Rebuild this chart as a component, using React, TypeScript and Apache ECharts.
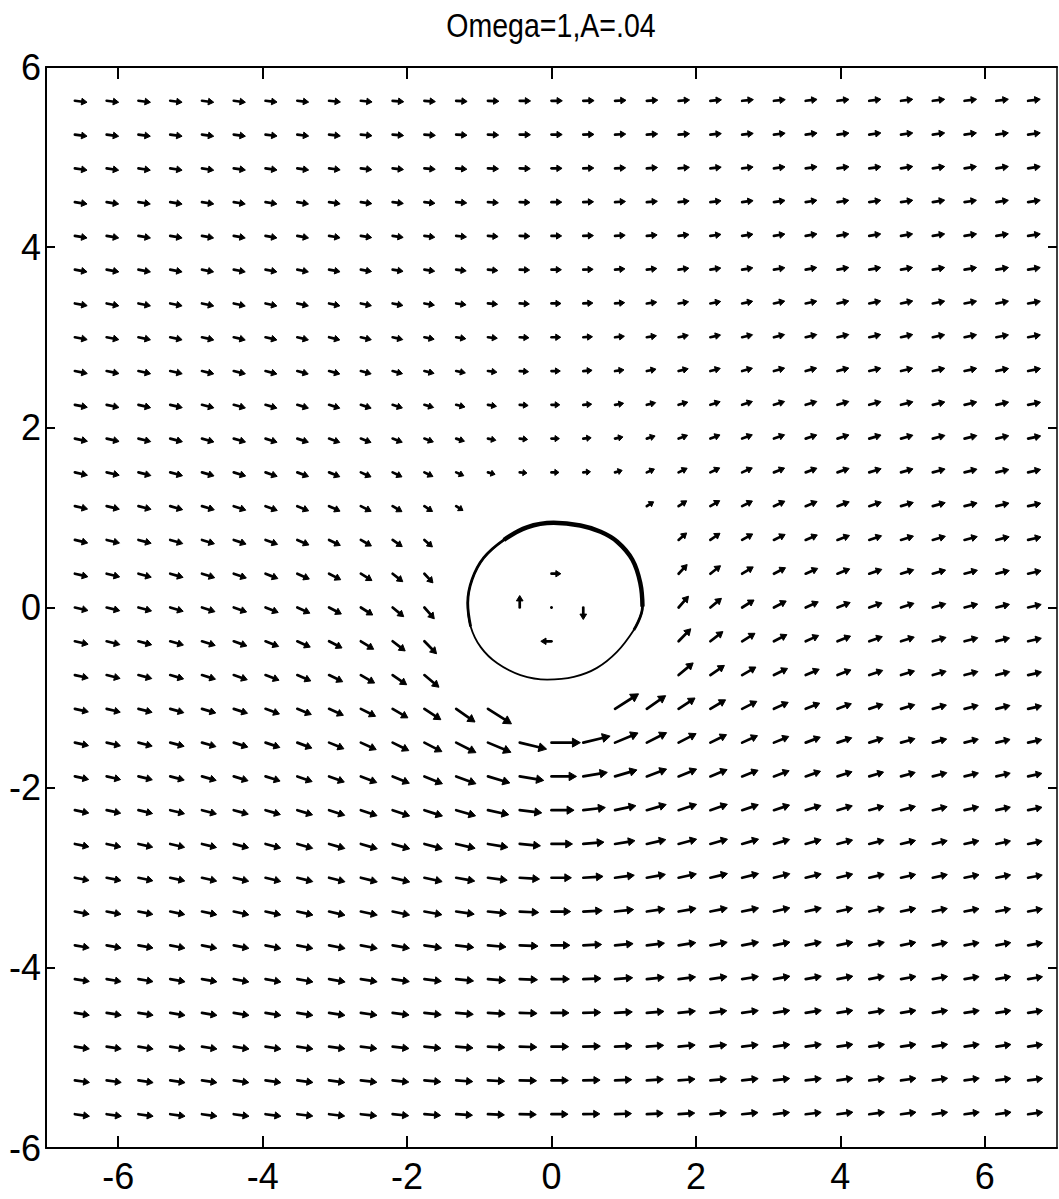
import React, { useEffect, useRef } from "react";
import * as echarts from "echarts";

// Title and axis tick values
const TITLE = "Omega=1,A=.04";
const X_TICKS = [-6, -4, -2, 0, 2, 4, 6];

// Quiver grid (tail positions of the arrows)
const X_GRID = [-6.6, -6.16, -5.72, -5.28, -4.84, -4.4, -3.96, -3.52, -3.08, -2.64, -2.2, -1.76, -1.32, -0.88, -0.44, 0, 0.44, 0.88, 1.32, 1.76, 2.2, 2.64, 3.08, 3.52, 3.96, 4.4, 4.84, 5.28, 5.72, 6.16, 6.6];
const Y_GRID = [-5.625, -5.25, -4.875, -4.5, -4.125, -3.75, -3.375, -3, -2.625, -2.25, -1.875, -1.5, -1.125, -0.75, -0.375, 0, 0.375, 0.75, 1.125, 1.5, 1.875, 2.25, 2.625, 3, 3.375, 3.75, 4.125, 4.5, 4.875, 5.25, 5.625];

// Horizontal velocity component, one row per Y_GRID value (bottom to top); null = no arrow
const U_ROWS = [
  [1.09,1.10,1.10,1.11,1.12,1.14,1.15,1.16,1.17,1.19,1.20,1.21,1.22,1.23,1.24,1.24,1.24,1.23,1.22,1.21,1.20,1.19,1.17,1.16,1.15,1.14,1.12,1.11,1.10,1.10,1.09],
  [1.09,1.09,1.10,1.11,1.12,1.13,1.15,1.17,1.18,1.20,1.21,1.23,1.24,1.25,1.26,1.26,1.26,1.25,1.24,1.23,1.21,1.20,1.18,1.17,1.15,1.13,1.12,1.11,1.10,1.09,1.09],
  [1.08,1.09,1.10,1.11,1.12,1.14,1.15,1.17,1.19,1.20,1.22,1.24,1.26,1.27,1.28,1.28,1.28,1.27,1.26,1.24,1.22,1.20,1.19,1.17,1.15,1.14,1.12,1.11,1.10,1.09,1.08],
  [1.08,1.09,1.10,1.11,1.12,1.14,1.15,1.17,1.19,1.21,1.23,1.26,1.28,1.29,1.30,1.31,1.30,1.29,1.28,1.26,1.23,1.21,1.19,1.17,1.15,1.14,1.12,1.11,1.10,1.09,1.08],
  [1.08,1.08,1.09,1.11,1.12,1.13,1.15,1.17,1.20,1.22,1.25,1.27,1.30,1.32,1.33,1.34,1.33,1.32,1.30,1.27,1.25,1.22,1.20,1.17,1.15,1.13,1.12,1.11,1.09,1.08,1.08],
  [1.07,1.08,1.09,1.10,1.11,1.13,1.15,1.17,1.20,1.23,1.26,1.29,1.32,1.35,1.37,1.38,1.37,1.35,1.32,1.29,1.26,1.23,1.20,1.17,1.15,1.13,1.11,1.10,1.09,1.08,1.07],
  [1.07,1.07,1.08,1.09,1.11,1.13,1.14,1.17,1.19,1.23,1.27,1.31,1.35,1.39,1.42,1.43,1.42,1.39,1.35,1.31,1.27,1.23,1.19,1.17,1.14,1.13,1.11,1.09,1.08,1.07,1.07],
  [1.06,1.07,1.08,1.09,1.10,1.12,1.14,1.16,1.19,1.23,1.28,1.33,1.39,1.44,1.48,1.49,1.48,1.44,1.39,1.33,1.28,1.23,1.19,1.16,1.14,1.12,1.10,1.09,1.08,1.07,1.06],
  [1.05,1.06,1.07,1.08,1.09,1.11,1.13,1.15,1.18,1.23,1.28,1.35,1.42,1.49,1.55,1.57,1.55,1.49,1.42,1.35,1.28,1.23,1.18,1.15,1.13,1.11,1.09,1.08,1.07,1.06,1.05],
  [1.04,1.05,1.06,1.07,1.08,1.09,1.11,1.14,1.17,1.21,1.27,1.35,1.45,1.56,1.65,1.69,1.65,1.56,1.45,1.35,1.27,1.21,1.17,1.14,1.11,1.09,1.08,1.07,1.06,1.05,1.04],
  [1.03,1.04,1.04,1.05,1.06,1.07,1.09,1.11,1.14,1.19,1.25,1.35,1.48,1.64,1.80,1.87,1.80,1.64,1.48,1.35,1.25,1.19,1.14,1.11,1.09,1.07,1.06,1.05,1.04,1.04,1.03],
  [1.02,1.03,1.03,1.04,1.04,1.05,1.07,1.09,1.11,1.15,1.21,1.31,1.48,1.72,2.01,2.16,2.01,1.72,1.48,1.31,1.21,1.15,1.11,1.09,1.07,1.05,1.04,1.04,1.03,1.03,1.02],
  [1.01,1.02,1.02,1.02,1.03,1.03,1.04,1.05,1.07,1.10,1.14,1.23,1.41,1.76,null,null,null,1.76,1.41,1.23,1.14,1.10,1.07,1.05,1.04,1.03,1.03,1.02,1.02,1.02,1.01],
  [1.00,1.00,1.00,1.00,1.01,1.01,1.01,1.01,1.02,1.03,1.05,1.09,null,null,null,null,null,null,null,1.09,1.05,1.03,1.02,1.01,1.01,1.01,1.01,1.00,1.00,1.00,1.00],
  [0.99,0.99,0.99,0.99,0.99,0.98,0.98,0.97,0.97,0.96,0.94,0.91,null,null,null,-0.8,null,null,null,0.91,0.94,0.96,0.97,0.97,0.98,0.98,0.99,0.99,0.99,0.99,0.99],
  [0.98,0.98,0.98,0.97,0.97,0.96,0.95,0.94,0.92,0.89,0.83,0.74,null,null,0,0,0,null,null,0.74,0.83,0.89,0.92,0.94,0.95,0.96,0.97,0.97,0.98,0.98,0.98],
  [0.97,0.97,0.96,0.96,0.95,0.94,0.92,0.90,0.87,0.83,0.76,0.64,null,null,null,0.7,null,null,null,0.64,0.76,0.83,0.87,0.90,0.92,0.94,0.95,0.96,0.96,0.97,0.97],
  [0.96,0.96,0.95,0.94,0.93,0.92,0.90,0.87,0.84,0.79,0.72,0.60,null,null,null,null,null,null,null,0.60,0.72,0.79,0.84,0.87,0.90,0.92,0.93,0.94,0.95,0.96,0.96],
  [0.95,0.95,0.94,0.93,0.92,0.90,0.88,0.85,0.82,0.77,0.70,0.61,0.51,null,null,null,null,null,0.51,0.61,0.70,0.77,0.82,0.85,0.88,0.90,0.92,0.93,0.94,0.95,0.95],
  [0.94,0.94,0.93,0.92,0.90,0.89,0.87,0.84,0.80,0.76,0.70,0.64,0.57,0.53,0.54,0.56,0.54,0.53,0.57,0.64,0.70,0.76,0.80,0.84,0.87,0.89,0.90,0.92,0.93,0.94,0.94],
  [0.94,0.93,0.92,0.91,0.89,0.88,0.86,0.83,0.80,0.76,0.72,0.67,0.62,0.59,0.59,0.59,0.59,0.59,0.62,0.67,0.72,0.76,0.80,0.83,0.86,0.88,0.89,0.91,0.92,0.93,0.94],
  [0.93,0.92,0.91,0.90,0.89,0.87,0.85,0.83,0.80,0.77,0.73,0.69,0.66,0.64,0.63,0.62,0.63,0.64,0.66,0.69,0.73,0.77,0.80,0.83,0.85,0.87,0.89,0.90,0.91,0.92,0.93],
  [0.93,0.92,0.91,0.90,0.88,0.87,0.85,0.82,0.80,0.77,0.74,0.72,0.69,0.67,0.66,0.66,0.66,0.67,0.69,0.72,0.74,0.77,0.80,0.82,0.85,0.87,0.88,0.90,0.91,0.92,0.93],
  [0.92,0.91,0.90,0.89,0.88,0.86,0.85,0.83,0.80,0.78,0.76,0.73,0.72,0.70,0.69,0.69,0.69,0.70,0.72,0.73,0.76,0.78,0.80,0.83,0.85,0.86,0.88,0.89,0.90,0.91,0.92],
  [0.92,0.91,0.90,0.89,0.88,0.86,0.85,0.83,0.81,0.79,0.77,0.75,0.74,0.72,0.72,0.71,0.72,0.72,0.74,0.75,0.77,0.79,0.81,0.83,0.85,0.86,0.88,0.89,0.90,0.91,0.92],
  [0.91,0.91,0.90,0.89,0.87,0.86,0.85,0.83,0.82,0.80,0.78,0.77,0.75,0.74,0.74,0.74,0.74,0.74,0.75,0.77,0.78,0.80,0.82,0.83,0.85,0.86,0.87,0.89,0.90,0.91,0.91],
  [0.91,0.90,0.90,0.89,0.87,0.86,0.85,0.84,0.82,0.81,0.79,0.78,0.77,0.76,0.76,0.76,0.76,0.76,0.77,0.78,0.79,0.81,0.82,0.84,0.85,0.86,0.87,0.89,0.90,0.90,0.91],
  [0.91,0.90,0.89,0.89,0.88,0.86,0.85,0.84,0.83,0.82,0.80,0.79,0.79,0.78,0.77,0.77,0.77,0.78,0.79,0.79,0.80,0.82,0.83,0.84,0.85,0.86,0.88,0.89,0.89,0.90,0.91],
  [0.91,0.90,0.89,0.89,0.88,0.87,0.86,0.85,0.83,0.82,0.81,0.81,0.80,0.79,0.79,0.79,0.79,0.79,0.80,0.81,0.81,0.82,0.83,0.85,0.86,0.87,0.88,0.89,0.89,0.90,0.91],
  [0.91,0.90,0.89,0.89,0.88,0.87,0.86,0.85,0.84,0.83,0.82,0.82,0.81,0.80,0.80,0.80,0.80,0.80,0.81,0.82,0.82,0.83,0.84,0.85,0.86,0.87,0.88,0.89,0.89,0.90,0.91],
  [0.91,0.90,0.90,0.89,0.88,0.87,0.86,0.85,0.85,0.84,0.83,0.82,0.82,0.82,0.81,0.81,0.81,0.82,0.82,0.82,0.83,0.84,0.85,0.85,0.86,0.87,0.88,0.89,0.90,0.90,0.91],
];

// Vertical velocity component, same layout as U_ROWS
const V_ROWS = [
  [-0.12,-0.12,-0.12,-0.12,-0.12,-0.12,-0.12,-0.11,-0.11,-0.10,-0.09,-0.07,-0.06,-0.04,-0.02,0,0.02,0.04,0.06,0.07,0.09,0.10,0.11,0.11,0.12,0.12,0.12,0.12,0.12,0.12,0.12],
  [-0.12,-0.12,-0.13,-0.13,-0.13,-0.13,-0.13,-0.12,-0.12,-0.11,-0.10,-0.08,-0.07,-0.05,-0.02,0,0.02,0.05,0.07,0.08,0.10,0.11,0.12,0.12,0.13,0.13,0.13,0.13,0.13,0.12,0.12],
  [-0.13,-0.13,-0.14,-0.14,-0.14,-0.14,-0.14,-0.14,-0.13,-0.12,-0.11,-0.10,-0.08,-0.05,-0.03,0,0.03,0.05,0.08,0.10,0.11,0.12,0.13,0.14,0.14,0.14,0.14,0.14,0.14,0.13,0.13],
  [-0.14,-0.14,-0.14,-0.15,-0.15,-0.15,-0.15,-0.15,-0.15,-0.14,-0.13,-0.11,-0.09,-0.06,-0.03,0,0.03,0.06,0.09,0.11,0.13,0.14,0.15,0.15,0.15,0.15,0.15,0.15,0.14,0.14,0.14],
  [-0.14,-0.15,-0.15,-0.16,-0.16,-0.17,-0.17,-0.17,-0.17,-0.16,-0.15,-0.13,-0.11,-0.08,-0.04,0,0.04,0.08,0.11,0.13,0.15,0.16,0.17,0.17,0.17,0.17,0.16,0.16,0.15,0.15,0.14],
  [-0.15,-0.16,-0.16,-0.17,-0.18,-0.18,-0.19,-0.19,-0.19,-0.19,-0.18,-0.16,-0.13,-0.10,-0.05,0,0.05,0.10,0.13,0.16,0.18,0.19,0.19,0.19,0.19,0.18,0.18,0.17,0.16,0.16,0.15],
  [-0.16,-0.16,-0.17,-0.18,-0.19,-0.20,-0.20,-0.21,-0.22,-0.21,-0.21,-0.19,-0.16,-0.12,-0.06,0,0.06,0.12,0.16,0.19,0.21,0.21,0.22,0.21,0.20,0.20,0.19,0.18,0.17,0.16,0.16],
  [-0.16,-0.17,-0.18,-0.19,-0.20,-0.21,-0.22,-0.23,-0.24,-0.25,-0.25,-0.23,-0.20,-0.15,-0.08,0,0.08,0.15,0.20,0.23,0.25,0.25,0.24,0.23,0.22,0.21,0.20,0.19,0.18,0.17,0.16],
  [-0.17,-0.18,-0.19,-0.20,-0.21,-0.23,-0.24,-0.26,-0.27,-0.29,-0.29,-0.29,-0.26,-0.20,-0.11,0,0.11,0.20,0.26,0.29,0.29,0.29,0.27,0.26,0.24,0.23,0.21,0.20,0.19,0.18,0.17],
  [-0.17,-0.18,-0.20,-0.21,-0.23,-0.24,-0.26,-0.28,-0.31,-0.33,-0.35,-0.35,-0.34,-0.27,-0.16,0,0.16,0.27,0.34,0.35,0.35,0.33,0.31,0.28,0.26,0.24,0.23,0.21,0.20,0.18,0.17],
  [-0.18,-0.19,-0.20,-0.22,-0.24,-0.26,-0.28,-0.31,-0.34,-0.37,-0.41,-0.44,-0.44,-0.39,-0.24,0,0.24,0.39,0.44,0.44,0.41,0.37,0.34,0.31,0.28,0.26,0.24,0.22,0.20,0.19,0.18],
  [-0.18,-0.19,-0.21,-0.22,-0.24,-0.27,-0.29,-0.33,-0.37,-0.42,-0.48,-0.54,-0.60,-0.58,-0.39,0,0.39,0.58,0.60,0.54,0.48,0.42,0.37,0.33,0.29,0.27,0.24,0.22,0.21,0.19,0.18],
  [-0.18,-0.20,-0.21,-0.23,-0.25,-0.27,-0.31,-0.34,-0.39,-0.45,-0.54,-0.65,-0.79,-0.90,null,null,null,0.90,0.79,0.65,0.54,0.45,0.39,0.34,0.31,0.27,0.25,0.23,0.21,0.20,0.18],
  [-0.18,-0.20,-0.21,-0.23,-0.25,-0.28,-0.31,-0.35,-0.40,-0.48,-0.58,-0.73,null,null,null,null,null,null,null,0.73,0.58,0.48,0.40,0.35,0.31,0.28,0.25,0.23,0.21,0.20,0.18],
  [-0.18,-0.20,-0.21,-0.23,-0.25,-0.28,-0.31,-0.35,-0.40,-0.48,-0.58,-0.75,null,null,null,0,null,null,null,0.75,0.58,0.48,0.40,0.35,0.31,0.28,0.25,0.23,0.21,0.20,0.18],
  [-0.18,-0.19,-0.21,-0.23,-0.25,-0.27,-0.30,-0.34,-0.39,-0.45,-0.55,-0.68,null,null,0.72,0,-0.72,null,null,0.68,0.55,0.45,0.39,0.34,0.30,0.27,0.25,0.23,0.21,0.19,0.18],
  [-0.18,-0.19,-0.21,-0.22,-0.24,-0.26,-0.29,-0.32,-0.36,-0.41,-0.48,-0.55,null,null,null,0,null,null,null,0.55,0.48,0.41,0.36,0.32,0.29,0.26,0.24,0.22,0.21,0.19,0.18],
  [-0.18,-0.19,-0.20,-0.22,-0.23,-0.25,-0.27,-0.30,-0.33,-0.36,-0.40,-0.42,null,null,null,null,null,null,null,0.42,0.40,0.36,0.33,0.30,0.27,0.25,0.23,0.22,0.20,0.19,0.18],
  [-0.17,-0.18,-0.19,-0.21,-0.22,-0.24,-0.26,-0.28,-0.30,-0.31,-0.33,-0.32,-0.26,null,null,null,null,null,0.26,0.32,0.33,0.31,0.30,0.28,0.26,0.24,0.22,0.21,0.19,0.18,0.17],
  [-0.17,-0.17,-0.19,-0.20,-0.21,-0.22,-0.24,-0.25,-0.26,-0.27,-0.27,-0.25,-0.20,-0.12,-0.04,0,0.04,0.12,0.20,0.25,0.27,0.27,0.26,0.25,0.24,0.22,0.21,0.20,0.19,0.17,0.17],
  [-0.16,-0.17,-0.18,-0.19,-0.20,-0.21,-0.22,-0.22,-0.23,-0.23,-0.22,-0.20,-0.16,-0.10,-0.05,0,0.05,0.10,0.16,0.20,0.22,0.23,0.23,0.22,0.22,0.21,0.20,0.19,0.18,0.17,0.16],
  [-0.15,-0.16,-0.17,-0.17,-0.18,-0.19,-0.20,-0.20,-0.20,-0.20,-0.19,-0.16,-0.13,-0.09,-0.04,0,0.04,0.09,0.13,0.16,0.19,0.20,0.20,0.20,0.20,0.19,0.18,0.17,0.17,0.16,0.15],
  [-0.15,-0.15,-0.16,-0.16,-0.17,-0.17,-0.18,-0.18,-0.18,-0.17,-0.16,-0.14,-0.11,-0.07,-0.04,0,0.04,0.07,0.11,0.14,0.16,0.17,0.18,0.18,0.18,0.17,0.17,0.16,0.16,0.15,0.15],
  [-0.14,-0.14,-0.15,-0.15,-0.16,-0.16,-0.16,-0.16,-0.16,-0.15,-0.14,-0.12,-0.09,-0.06,-0.03,0,0.03,0.06,0.09,0.12,0.14,0.15,0.16,0.16,0.16,0.16,0.16,0.15,0.15,0.14,0.14],
  [-0.13,-0.14,-0.14,-0.14,-0.15,-0.15,-0.15,-0.14,-0.14,-0.13,-0.12,-0.10,-0.08,-0.05,-0.03,0,0.03,0.05,0.08,0.10,0.12,0.13,0.14,0.14,0.15,0.15,0.15,0.14,0.14,0.14,0.13],
  [-0.13,-0.13,-0.13,-0.13,-0.13,-0.13,-0.13,-0.13,-0.12,-0.11,-0.10,-0.09,-0.07,-0.05,-0.02,0,0.02,0.05,0.07,0.09,0.10,0.11,0.12,0.13,0.13,0.13,0.13,0.13,0.13,0.13,0.13],
  [-0.12,-0.12,-0.12,-0.12,-0.12,-0.12,-0.12,-0.12,-0.11,-0.10,-0.09,-0.08,-0.06,-0.04,-0.02,0,0.02,0.04,0.06,0.08,0.09,0.10,0.11,0.12,0.12,0.12,0.12,0.12,0.12,0.12,0.12],
  [-0.11,-0.11,-0.11,-0.12,-0.11,-0.11,-0.11,-0.11,-0.10,-0.09,-0.08,-0.07,-0.05,-0.04,-0.02,0,0.02,0.04,0.05,0.07,0.08,0.09,0.10,0.11,0.11,0.11,0.11,0.12,0.11,0.11,0.11],
  [-0.11,-0.11,-0.11,-0.11,-0.11,-0.10,-0.10,-0.10,-0.09,-0.08,-0.07,-0.06,-0.05,-0.03,-0.02,0,0.02,0.03,0.05,0.06,0.07,0.08,0.09,0.10,0.10,0.10,0.11,0.11,0.11,0.11,0.11],
  [-0.10,-0.10,-0.10,-0.10,-0.10,-0.10,-0.09,-0.09,-0.08,-0.07,-0.06,-0.05,-0.04,-0.03,-0.01,0,0.01,0.03,0.04,0.05,0.06,0.07,0.08,0.09,0.09,0.10,0.10,0.10,0.10,0.10,0.10],
  [-0.09,-0.09,-0.09,-0.09,-0.09,-0.09,-0.08,-0.08,-0.07,-0.07,-0.06,-0.05,-0.04,-0.03,-0.01,0,0.01,0.03,0.04,0.05,0.06,0.07,0.07,0.08,0.08,0.09,0.09,0.09,0.09,0.09,0.09],
];

// Closed orbit around the origin (starts on the lower right, runs over the top)
const LOOP_X = [1.14, 1.26, 1.23, 1.12, 0.91, 0.68, 0.40, 0.03, -0.34, -0.66, -0.94, -1.10, -1.16, -1.12, -0.98, -0.75, -0.43, -0.06, 0.31, 0.63, 0.91, 1.14];
const LOOP_Y = [-0.25, 0.01, 0.27, 0.53, 0.73, 0.84, 0.91, 0.94, 0.89, 0.75, 0.55, 0.31, 0.05, -0.21, -0.44, -0.62, -0.75, -0.80, -0.77, -0.67, -0.49, -0.25];

// Arrow length in axis units per unit of velocity
const ARROW_SCALE = 0.185;
const FONT = "'Liberation Sans', Arial, Helvetica, sans-serif";

function buildArrows() {
  const out: number[][] = [];
  for (let j = 0; j < Y_GRID.length; j++) {
    const ur = U_ROWS[j];
    const vr = V_ROWS[j];
    for (let i = 0; i < X_GRID.length; i++) {
      const u = ur[i];
      const v = vr[i];
      if (u === null || v === null || u === undefined || v === undefined) continue;
      out.push([X_GRID[i], Y_GRID[j], u as number, v as number]);
    }
  }
  return out;
}

function loopSlice(a: number, b: number) {
  const pts: number[][] = [];
  for (let i = a; i <= b; i++) pts.push([LOOP_X[i], LOOP_Y[i]]);
  return pts;
}

export default function App() {
  const ref = useRef<HTMLDivElement>(null);

  useEffect(() => {
    if (!ref.current) return;
    const chart = echarts.init(ref.current, undefined, { renderer: "svg" });

    const axisLineStyle = { color: "#000", width: 2 };
    const tickStyle = { color: "#000", width: 2 };

    const option: any = {
      animation: false,
      backgroundColor: "#fff",
      grid: { left: 46, right: 2, top: 67, bottom: 51, containLabel: false },
      xAxis: [
        {
          type: "value", min: -7, max: 7, position: "bottom",
          axisLine: { onZero: false, lineStyle: axisLineStyle },
          axisTick: { inside: true, length: 12, customValues: X_TICKS, lineStyle: tickStyle },
          axisLabel: { customValues: X_TICKS, color: "#000", fontSize: 36, fontFamily: FONT, margin: 10, lineHeight: 36 },
          splitLine: { show: false },
        },
        {
          type: "value", min: -7, max: 7, position: "top",
          axisLine: { onZero: false, lineStyle: axisLineStyle },
          axisTick: { inside: true, length: 12, customValues: X_TICKS, lineStyle: tickStyle },
          axisLabel: { show: false },
          splitLine: { show: false },
        },
      ],
      yAxis: [
        {
          type: "value", min: -6, max: 6, interval: 2, position: "left",
          axisLine: { onZero: false, lineStyle: axisLineStyle },
          axisTick: { inside: true, length: 9, lineStyle: tickStyle },
          axisLabel: { color: "#000", fontSize: 36, fontFamily: FONT, margin: 5 },
          splitLine: { show: false },
        },
        {
          type: "value", min: -6, max: 6, interval: 2, position: "right",
          axisLine: { onZero: false, lineStyle: { color: "#000", width: 1.5 } },
          axisTick: { inside: true, length: 9, lineStyle: tickStyle },
          axisLabel: { show: false },
          splitLine: { show: false },
        },
      ],
      graphic: [
        {
          type: "text", x: 551, y: 26, scaleX: 0.84,
          style: { text: TITLE, fontSize: 34, fontFamily: FONT, fill: "#000", textAlign: "center", textVerticalAlign: "middle" },
        },
      ],
      series: [
        {
          type: "custom",
          xAxisIndex: 0, yAxisIndex: 0,
          data: buildArrows(),
          encode: { x: 0, y: 1 },
          silent: true,
          renderItem: (_params: any, api: any) => {
            const x = api.value(0), y = api.value(1), u = api.value(2), v = api.value(3);
            const p0 = api.coord([x, y]);
            const p1 = api.coord([x + ARROW_SCALE * u, y + ARROW_SCALE * v]);
            const dx = p1[0] - p0[0], dy = p1[1] - p0[1];
            const len = Math.hypot(dx, dy);
            if (len < 1) {
              return { type: "circle", shape: { cx: p0[0], cy: p0[1], r: 1.5 }, style: { fill: "#000" } };
            }
            const ux = dx / len, uy = dy / len;
            const hl = Math.min(len * 0.55, 3.6 + 0.15 * len);
            const hw = 2.5 + 0.07 * len;
            const bx = p1[0] - ux * hl, by = p1[1] - uy * hl;
            return {
              type: "group",
              children: [
                { type: "line", shape: { x1: p0[0], y1: p0[1], x2: bx + ux, y2: by + uy }, style: { stroke: "#000", lineWidth: 2.7, lineCap: "round" } },
                {
                  type: "polygon",
                  shape: { points: [[p1[0], p1[1]], [bx - uy * hw, by + ux * hw], [bx + uy * hw, by - ux * hw]] },
                  style: { fill: "#000", stroke: "#000", lineWidth: 1, lineJoin: "round" },
                },
              ],
            };
          },
        },
        {
          type: "line", data: loopSlice(0, LOOP_X.length - 1), showSymbol: false, smooth: 0.4, silent: true,
          lineStyle: { color: "#000", width: 1.8 },
        },
        {
          type: "line", data: loopSlice(0, 13), showSymbol: false, smooth: 0.4, silent: true,
          lineStyle: { color: "#000", width: 2.8 },
        },
        {
          type: "line", data: loopSlice(1, 9), showSymbol: false, smooth: 0.4, silent: true,
          lineStyle: { color: "#000", width: 4.4 },
        },
      ],
    };

    chart.setOption(option);
    return () => chart.dispose();
  }, []);

  return <div ref={ref} style={{ position: "absolute", left: 0, top: 0, width: 1059, height: 1199 }} />;
}
